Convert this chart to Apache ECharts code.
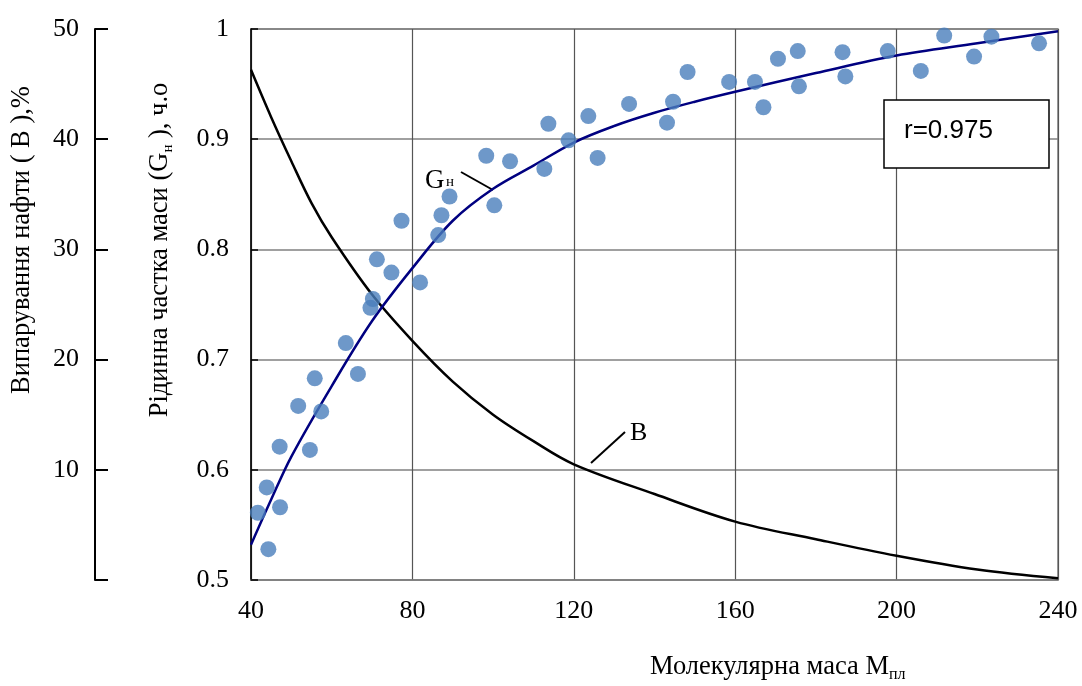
<!DOCTYPE html>
<html>
<head>
<meta charset="utf-8">
<script src="https://cdn.jsdelivr.net/npm/echarts@6/dist/echarts.min.js"></script>
<style>
html, body { margin: 0; padding: 0; background: #fff; }
#chart { width: 1082px; height: 686px; }
</style>
</head>
<body>
<div id="chart"></div>
<script>
// Molecular mass axis
const massTicks = [40, 80, 120, 160, 200, 240];

// Measured samples: molecular mass / liquid mass fraction Gн
const pointMass = [41.7, 43.9, 44.3, 47.1, 47.2, 51.7, 54.6, 55.8, 57.4, 63.5, 66.5, 69.6, 70.2, 71.2, 74.8, 77.3, 81.9, 86.4, 87.2, 89.2, 98.3, 100.3, 104.2, 112.7, 113.7, 118.7, 123.6, 125.9, 133.7, 143.1, 144.6, 148.2, 158.5, 164.9, 167.0, 170.6, 175.5, 175.8, 186.6, 187.3, 197.8, 206.0, 211.8, 219.2, 223.5, 235.3];
const pointLiquid = [0.561, 0.584, 0.528, 0.621, 0.566, 0.658, 0.618, 0.683, 0.653, 0.715, 0.687, 0.747, 0.755, 0.791, 0.779, 0.826, 0.770, 0.813, 0.831, 0.848, 0.885, 0.840, 0.880, 0.873, 0.914, 0.899, 0.921, 0.883, 0.932, 0.915, 0.934, 0.961, 0.952, 0.952, 0.929, 0.973, 0.980, 0.948, 0.979, 0.957, 0.980, 0.962, 0.994, 0.975, 0.993, 0.987];

// Fitted curve Gн
const fitMass = [40, 45, 50, 60, 70, 80, 90, 100, 110, 120, 130, 140, 150, 160, 180, 200, 220, 240];
const fitLiquid = [0.532, 0.573, 0.612, 0.676, 0.735, 0.783, 0.826, 0.855, 0.876, 0.897, 0.912, 0.924, 0.934, 0.943, 0.960, 0.976, 0.987, 0.998];

// Oil evaporation В, %
const evapMass = [40, 45, 50, 55, 60, 70, 80, 90, 100, 110, 120, 140, 160, 180, 200, 220, 240];
const evapPercent = [46.3, 42.0, 38.0, 34.2, 31.1, 25.9, 21.7, 18.0, 15.0, 12.6, 10.5, 7.8, 5.3, 3.7, 2.2, 0.95, 0.15];

const correlation = 'r=0.975';

const serif = '"Liberation Serif", "Times New Roman", serif';
const zip = (xs, ys) => xs.map((x, i) => [x, ys[i]]);

const chart = echarts.init(document.getElementById('chart'), null, { renderer: 'canvas' });

chart.setOption({
  animation: false,
  backgroundColor: '#fff',
  grid: {
    left: 251, top: 29, width: 807, height: 551,
    show: true, borderColor: '#808080', borderWidth: 1.5, backgroundColor: 'transparent'
  },
  xAxis: {
    type: 'value',
    min: massTicks[0], max: massTicks[massTicks.length - 1], interval: 40,
    axisLine: { show: true, lineStyle: { color: '#808080', width: 1.5 } },
    axisTick: { show: false },
    axisLabel: { color: '#000', fontFamily: serif, fontSize: 26, margin: 18 },
    splitLine: { show: true, lineStyle: { color: '#555', width: 1.2 } }
  },
  yAxis: [
    {
      type: 'value', min: 0.5, max: 1, interval: 0.1,
      axisLine: { show: true, lineStyle: { color: '#000', width: 1.5 } },
      axisTick: { show: true, inside: true, length: 7, lineStyle: { color: '#000', width: 1.5 } },
      axisLabel: {
        color: '#000', fontFamily: serif, fontSize: 26, margin: 22,
        formatter: v => String(Math.round(v * 10) / 10)
      },
      splitLine: { show: true, lineStyle: { color: '#808080', width: 1.5 } }
    },
    {
      type: 'value', min: 0, max: 50, interval: 10,
      position: 'left', offset: 156,
      axisLine: { show: true, lineStyle: { color: '#000', width: 2 } },
      axisTick: { show: true, inside: true, length: 13, lineStyle: { color: '#000', width: 2 } },
      axisLabel: {
        color: '#000', fontFamily: serif, fontSize: 26, margin: 16,
        formatter: v => (v === 0 ? '' : String(v))
      },
      splitLine: { show: false }
    }
  ],
  series: [
    {
      name: 'В', type: 'line', yAxisIndex: 1, smooth: 0.35, showSymbol: false,
      lineStyle: { color: '#000', width: 2.5 },
      data: zip(evapMass, evapPercent), z: 3
    },
    {
      name: 'Gн', type: 'line', yAxisIndex: 0, smooth: 0.35, showSymbol: false,
      lineStyle: { color: '#000080', width: 2.5 },
      data: zip(fitMass, fitLiquid), z: 3
    },
    {
      name: 'points', type: 'scatter', yAxisIndex: 0,
      symbolSize: 16,
      itemStyle: { color: '#4a7ebb' },
      data: zip(pointMass, pointLiquid), z: 4
    }
  ],
  graphic: [
    // left axis titles
    {
      type: 'text', x: 22, y: 240, rotation: Math.PI / 2,
      style: {
        text: 'Випарування нафти ( В ),%',
        font: '26.5px ' + serif, fill: '#000', align: 'center', verticalAlign: 'middle'
      }
    },
    {
      type: 'text', x: 160, y: 250, rotation: Math.PI / 2,
      style: {
        text: '{a|Рідинна частка маси (G}{s|н}{a| ), ч.о}',
        align: 'center', verticalAlign: 'middle',
        rich: {
          a: { font: '26.5px ' + serif, fill: '#000', lineHeight: 32 },
          s: { font: '15px ' + serif, fill: '#000', verticalAlign: 'bottom', lineHeight: 32 }
        }
      }
    },
    // bottom axis title
    {
      type: 'text', x: 650, y: 667,
      style: {
        text: '{a|Молекулярна маса М}{s|пл}',
        align: 'left', verticalAlign: 'middle',
        rich: {
          a: { font: '26.5px ' + serif, fill: '#000', lineHeight: 32 },
          s: { font: '16px ' + serif, fill: '#000', verticalAlign: 'bottom', lineHeight: 32 }
        }
      }
    },
    // curve labels with leaders
    {
      type: 'text', x: 425, y: 167,
      style: { text: 'G', font: '27px ' + serif, fill: '#000', align: 'left', verticalAlign: 'alphabetic' }
    },
    {
      type: 'text', x: 446, y: 175,
      style: { text: 'н', font: '15px ' + serif, fill: '#000', align: 'left', verticalAlign: 'alphabetic' }
    },
    {
      type: 'line', shape: { x1: 461, y1: 172, x2: 493, y2: 190 },
      style: { stroke: '#000', lineWidth: 2 }
    },
    {
      type: 'text', x: 630, y: 420,
      style: { text: 'В', font: '26px ' + serif, fill: '#000', align: 'left', verticalAlign: 'alphabetic' }
    },
    {
      type: 'line', shape: { x1: 625, y1: 432, x2: 591, y2: 463 },
      style: { stroke: '#000', lineWidth: 2 }
    },
    // correlation box
    {
      type: 'rect', shape: { x: 884, y: 100, width: 165, height: 68 },
      style: { fill: '#fff', stroke: '#000', lineWidth: 1.5 }, z: 10
    },
    {
      type: 'text', x: 904, y: 131, z: 11,
      style: { text: correlation, font: '26px "Liberation Sans", Arial, sans-serif', fill: '#000', align: 'left', verticalAlign: 'middle' }
    }
  ]
});
</script>
</body>
</html>
